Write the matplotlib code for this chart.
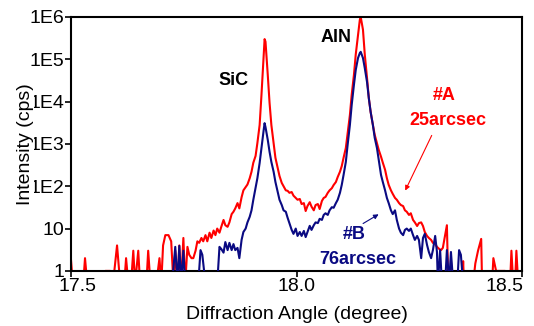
import matplotlib
matplotlib.use("Agg")
import matplotlib.pyplot as plt
import matplotlib.transforms as mtransforms
from matplotlib.ticker import FixedLocator, FixedFormatter

plt.rcParams['font.family'] = ['Liberation Sans', 'DejaVu Sans']

# sample #A (red) - angle (deg) and intensity (cps); 0.5 = zero counts (below axis)
angle_a = [17.500, 17.504, 17.527, 17.531, 17.536, 17.573, 17.576, 17.587, 17.593, 17.602,
           17.609, 17.618, 17.622, 17.627, 17.633, 17.638, 17.642, 17.649, 17.653, 17.667,
           17.671, 17.676, 17.689, 17.696, 17.700, 17.704, 17.709, 17.716, 17.722, 17.727,
           17.731, 17.736, 17.740, 17.744, 17.749, 17.753, 17.758, 17.762, 17.767, 17.771,
           17.776, 17.780, 17.784, 17.789, 17.793, 17.798, 17.802, 17.807, 17.811, 17.816,
           17.820, 17.824, 17.829, 17.833, 17.838, 17.842, 17.847, 17.851, 17.856, 17.860,
           17.864, 17.869, 17.873, 17.878, 17.882, 17.887, 17.891, 17.896, 17.900, 17.904,
           17.909, 17.913, 17.918, 17.922, 17.927, 17.929, 17.931, 17.936, 17.940, 17.944,
           17.949, 17.953, 17.958, 17.962, 17.967, 17.971, 17.976, 17.980, 17.984, 17.989,
           17.993, 17.998, 18.002, 18.007, 18.011, 18.016, 18.020, 18.024, 18.029, 18.033,
           18.038, 18.042, 18.047, 18.051, 18.056, 18.060, 18.064, 18.069, 18.073, 18.078,
           18.082, 18.087, 18.091, 18.096, 18.100, 18.104, 18.109, 18.113, 18.118, 18.122,
           18.127, 18.131, 18.136, 18.140, 18.142, 18.147, 18.151, 18.156, 18.160, 18.164,
           18.169, 18.173, 18.178, 18.182, 18.187, 18.191, 18.196, 18.200, 18.204, 18.209,
           18.213, 18.218, 18.222, 18.227, 18.231, 18.236, 18.240, 18.244, 18.249, 18.253,
           18.258, 18.262, 18.267, 18.271, 18.276, 18.280, 18.284, 18.289, 18.293, 18.298,
           18.302, 18.307, 18.311, 18.316, 18.320, 18.324, 18.329, 18.333, 18.336, 18.340,
           18.342, 18.344, 18.367, 18.369, 18.371, 18.391, 18.396, 18.402, 18.409, 18.411,
           18.433, 18.436, 18.442, 18.449, 18.462, 18.467, 18.473, 18.476, 18.480, 18.484,
           18.487, 18.491, 18.502]
counts_a = [1.8, 0.5, 0.5, 2, 0.5, 0.5, 1, 1, 0.5, 4,
            0.5, 0.5, 2, 0.5, 0.5, 3, 0.5, 3, 0.5, 0.5,
            3, 0.5, 0.5, 2, 0.5, 4, 7, 7, 5, 0.5,
            3, 0.5, 4, 0.5, 6, 0.5, 3.7, 2.4, 2, 2,
            3, 5, 4.6, 6, 5, 7, 5, 8, 6, 9,
            7, 10, 8, 11, 16, 12, 11, 14, 22, 25,
            30, 40, 30, 55, 80, 95, 110, 155, 220, 360,
            520, 1050, 2800, 14000, 120000, 300000, 260000, 43000, 9300, 2800,
            1050, 470, 270, 175, 120, 100, 80, 78, 70, 73,
            60, 53, 48, 50, 38, 40, 26, 34, 42, 33,
            27, 36, 38, 29, 45, 53, 56, 70, 80, 90,
            107, 126, 165, 220, 300, 470, 800, 1800, 4800, 14500,
            43000, 130000, 380000, 850000, 1000000, 500000, 130000, 36000, 12000, 5700,
            2800, 1650, 1050, 720, 500, 360, 245, 155, 108, 80,
            66, 53, 48, 40, 36, 34, 27, 25, 21, 23,
            16, 14, 11.5, 13.5, 14, 11.5, 8.3, 6.7, 6, 5.4,
            4.6, 4.3, 3.7, 3.3, 3.1, 3.5, 7, 12, 0.5, 0.5,
            1.8, 0.5, 0.5, 1.7, 0.5, 0.5, 1.5, 3, 5.7, 0.5,
            0.5, 2, 1, 1, 1, 0.5, 0.5, 3, 0.5, 0.5,
            3, 0.5, 0.5]

# sample #B (navy)
angle_b = [17.724, 17.731, 17.736, 17.740, 17.744, 17.749, 17.753, 17.782, 17.787, 17.791,
           17.798, 17.824, 17.829, 17.833, 17.838, 17.842, 17.847, 17.851, 17.856, 17.860,
           17.864, 17.869, 17.873, 17.878, 17.882, 17.887, 17.891, 17.896, 17.900, 17.904,
           17.909, 17.913, 17.918, 17.922, 17.927, 17.929, 17.931, 17.936, 17.940, 17.944,
           17.949, 17.953, 17.958, 17.962, 17.967, 17.971, 17.976, 17.980, 17.984, 17.989,
           17.993, 17.998, 18.002, 18.007, 18.011, 18.016, 18.020, 18.024, 18.029, 18.033,
           18.038, 18.042, 18.047, 18.051, 18.056, 18.060, 18.064, 18.069, 18.073, 18.078,
           18.082, 18.087, 18.091, 18.096, 18.100, 18.104, 18.109, 18.113, 18.118, 18.122,
           18.127, 18.131, 18.136, 18.140, 18.142, 18.147, 18.151, 18.156, 18.160, 18.164,
           18.169, 18.173, 18.178, 18.182, 18.187, 18.191, 18.196, 18.200, 18.204, 18.209,
           18.213, 18.218, 18.222, 18.227, 18.231, 18.236, 18.240, 18.244, 18.249, 18.253,
           18.258, 18.262, 18.267, 18.271, 18.276, 18.280, 18.284, 18.289, 18.293, 18.298,
           18.302, 18.307, 18.311, 18.313, 18.318, 18.322, 18.329, 18.333, 18.338, 18.342,
           18.347, 18.356, 18.360, 18.364, 18.369]
counts_b = [0.5, 3.7, 0.5, 3.9, 0.5, 3, 0.5, 0.5, 3.1, 2.4,
            0.5, 0.5, 3.7, 3.3, 2.7, 4.8, 3.1, 4.6, 3.1, 4.3,
            3.1, 3.5, 2, 5.4, 8.3, 10, 14, 19, 27, 48,
            91, 155, 355, 800, 2150, 3100, 2500, 1250, 650, 375,
            220, 126, 73, 48, 36, 27, 25, 18, 13.5, 9.3,
            7.5, 10, 6.7, 8.3, 6.7, 8.8, 6.3, 8.3, 11.6, 9.3,
            12, 14, 13.5, 17, 16, 21, 23, 21, 27, 32,
            31, 40, 48, 70, 108, 185, 375, 950, 2800, 8300,
            25000, 56000, 107000, 140000, 150000, 107000, 62000, 29000, 12000, 5700,
            2800, 1400, 800, 420, 185, 126, 80, 53, 40, 27,
            22, 27, 16, 10, 8, 7, 9.3, 10, 8.8, 10,
            7, 5.4, 6.7, 5.4, 2, 6, 7.5, 4.1, 2.8, 2,
            3.1, 6.7, 2.8, 0.5, 3.1, 0.5, 0.5, 3.1, 0.5, 2.8,
            0.5, 0.5, 3.1, 2.4, 0.5]

x_ticks = [17.5, 18.0, 18.5]
y_ticks = [1, 10, 1e2, 1e3, 1e4, 1e5, 1e6]
y_tick_labels = ["1", "10", "1E2", "1E3", "1E4", "1E5", "1E6"]

red = "#ff0000"
navy = "#0a0a82"

fig = plt.figure(figsize=(5.34, 3.26), dpi=100)
ax = fig.add_axes([0.133, 0.169, 0.845, 0.779])

ax.plot(angle_a, counts_a, color=red, lw=1.5, zorder=2)
ax.plot(angle_b, counts_b, color=navy, lw=1.5, zorder=3)

ax.set_yscale("log")
ax.set_xlim(17.5, 18.5)
ax.set_ylim(1, 1e6)

ax.xaxis.set_major_locator(FixedLocator(x_ticks))
ax.xaxis.set_major_formatter(FixedFormatter([f"{t:.1f}" for t in x_ticks]))
ax.yaxis.set_major_locator(FixedLocator(y_ticks))
ax.yaxis.set_major_formatter(FixedFormatter(y_tick_labels))
ax.yaxis.set_minor_locator(FixedLocator([]))
ax.tick_params(axis="both", direction="out", length=4, width=1.2, labelsize=14, pad=1)

# end labels kept inside the figure like the original
xlabels = ax.get_xticklabels()
xlabels[0].set_transform(xlabels[0].get_transform() +
                         mtransforms.ScaledTranslation(6 / 100, 0, fig.dpi_scale_trans))
xlabels[-1].set_horizontalalignment("right")
xlabels[-1].set_transform(xlabels[-1].get_transform() +
                          mtransforms.ScaledTranslation(1 / 100, 0, fig.dpi_scale_trans))

for s in ax.spines.values():
    s.set_linewidth(1.5)

ax.set_xlabel("Diffraction Angle (degree)", fontsize=14, labelpad=8)
ax.set_ylabel("Intensity (cps)", fontsize=14,
              bbox=dict(facecolor="white", edgecolor="none", pad=0))
ax.yaxis.set_label_coords(-0.082, 0.5)

# peak labels
ax.text(17.86, 3.1e4, "SiC", fontsize=13, fontweight="bold", ha="center", va="center")
ax.text(18.087, 3.2e5, "AlN", fontsize=13, fontweight="bold", ha="center", va="center")

ax.text(18.327, 1.36e4, "#A", color=red, fontsize=13, fontweight="bold", ha="center", va="center")
ax.text(18.336, 3500, "25arcsec", color=red, fontsize=13, fontweight="bold", ha="center", va="center")
ax.annotate("", xy=(18.238, 69), xytext=(18.302, 1820),
            arrowprops=dict(arrowstyle="-|>", color=red, lw=0.8, mutation_scale=7))

ax.text(18.127, 7.1, "#B", color=navy, fontsize=13, fontweight="bold", ha="center", va="center")
ax.text(18.136, 1.82, "76arcsec", color=navy, fontsize=13, fontweight="bold", ha="center", va="center")
ax.annotate("", xy=(18.187, 23.5), xytext=(18.142, 12.2),
            arrowprops=dict(arrowstyle="-|>", color=navy, lw=0.8, mutation_scale=7))

fig.savefig("out.png", dpi=100)
